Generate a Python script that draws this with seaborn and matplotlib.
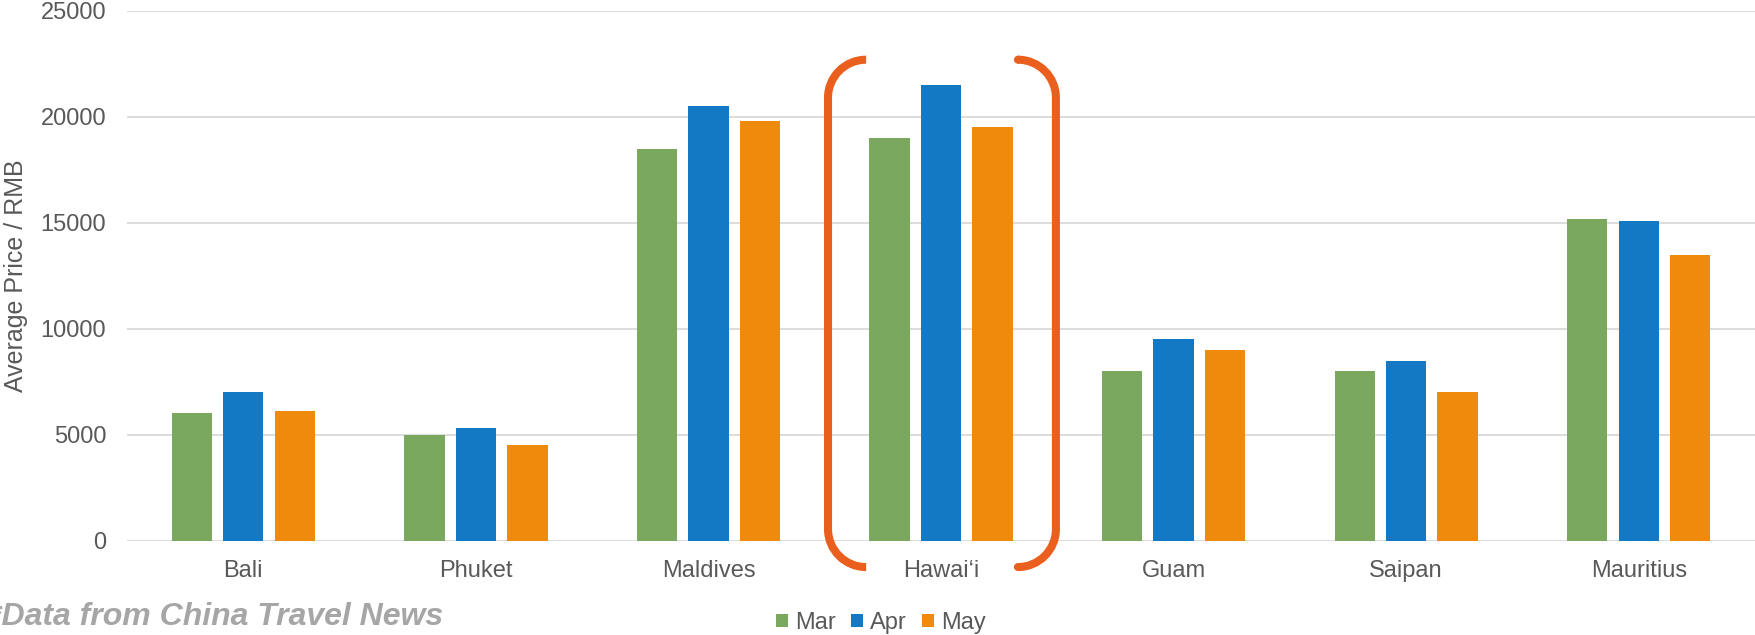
import matplotlib
matplotlib.use("Agg")
import matplotlib.pyplot as plt
from matplotlib.path import Path
from matplotlib.patches import PathPatch
from matplotlib.transforms import IdentityTransform
import seaborn as sns
import pandas as pd

# Average package prices (RMB) per destination and month
destinations = ["Bali", "Phuket", "Maldives", "Hawai\u2018i", "Guam", "Saipan", "Mauritius"]
months = ["Mar", "Apr", "May"]
mar_prices = [6000, 5000, 18500, 19000, 8000, 8000, 15200]
apr_prices = [7000, 5300, 20500, 21500, 9500, 8500, 15100]
may_prices = [6100, 4500, 19800, 19500, 9000, 7000, 13500]
y_ticks = [0, 5000, 10000, 15000, 20000, 25000]

highlight = "Hawai\u2018i"
palette = {"Mar": "#7BA85F", "Apr": "#1479C5", "May": "#F08A0C"}
text_grey = "#595959"
grid_grey = "#D9D9D9"
bracket_color = "#EA5F1E"

df = pd.DataFrame({
    "destination": destinations * 3,
    "month": [m for m in months for _ in destinations],
    "price": mar_prices + apr_prices + may_prices,
})

sns.set_theme(style="white")
plt.rcParams["font.family"] = ["Liberation Sans", "DejaVu Sans"]

fig = plt.figure(figsize=(17.55, 6.35), dpi=100)
ax = fig.add_axes([0.0724, 0.1487, 0.9276, 0.834])

sns.barplot(data=df, x="destination", y="price", hue="month", order=destinations,
            hue_order=months, palette=palette, width=0.664, gap=0.217,
            saturation=1, linewidth=0, errorbar=None, ax=ax)

ax.set_xlim(-0.5, len(destinations) - 0.5)
ax.set_ylim(0, 25000)
ax.set_yticks(y_ticks)
ax.set_yticklabels([str(v) for v in y_ticks])
ax.grid(axis="y", color=grid_grey, linewidth=1.3)
ax.set_axisbelow(True)
for side in ["top", "right", "left", "bottom"]:
    ax.spines[side].set_visible(False)
ax.tick_params(axis="both", length=0, labelsize=17, labelcolor=text_grey)
ax.tick_params(axis="y", pad=15)
ax.tick_params(axis="x", pad=14)
ax.set_xlabel("")
ax.set_ylabel("Average Price / RMB", fontsize=18, color=text_grey, va="center")
ax.yaxis.set_label_coords(-0.068, 0.5)

handles, labels = ax.get_legend_handles_labels()
ax.legend(handles, labels, loc="center", bbox_to_anchor=(0.502, 0.019),
          bbox_transform=fig.transFigure, ncol=3, frameon=False, fontsize=17,
          labelcolor=text_grey, handlelength=0.5, handleheight=0.5,
          handletextpad=0.3, columnspacing=0.65, borderaxespad=0)

# Rounded brackets around the highlighted destination
fig.canvas.draw()
idx = destinations.index(highlight)
to_px = ax.transData.transform
xl_out, xl_cap = to_px((idx - 0.486, 0))[0], to_px((idx - 0.322, 0))[0]
xr_out, xr_cap = to_px((idx + 0.494, 0))[0], to_px((idx + 0.335, 0))[0]
y_top = to_px((0, 22700))[1]
y_bot = to_px((0, -1250))[1]
r = 38.0
k = 0.5523 * r


def bracket(x_out, x_cap, sign):
    # sign = +1 for the left bracket (caps point right), -1 for the right one
    verts = [
        (x_cap, y_top), (x_out + sign * r, y_top),
        (x_out + sign * (r - k), y_top), (x_out, y_top - (r - k)), (x_out, y_top - r),
        (x_out, y_bot + r),
        (x_out, y_bot + (r - k)), (x_out + sign * (r - k), y_bot), (x_out + sign * r, y_bot),
        (x_cap, y_bot),
    ]
    codes = [Path.MOVETO, Path.LINETO,
             Path.CURVE4, Path.CURVE4, Path.CURVE4,
             Path.LINETO,
             Path.CURVE4, Path.CURVE4, Path.CURVE4,
             Path.LINETO]
    return PathPatch(Path(verts, codes), fill=False, edgecolor=bracket_color,
                     linewidth=5.8, capstyle="butt", joinstyle="round",
                     transform=IdentityTransform(), zorder=5)


fig.add_artist(bracket(xl_out, xl_cap, 1))
fig.add_artist(bracket(xr_out, xr_cap, -1))

fig.text(-0.006, 0.028, "*Data from China Travel News", fontsize=23,
         fontweight="bold", fontstyle="italic", color="#A6A6A6",
         ha="left", va="center")

fig.savefig("out.png", dpi=100)
